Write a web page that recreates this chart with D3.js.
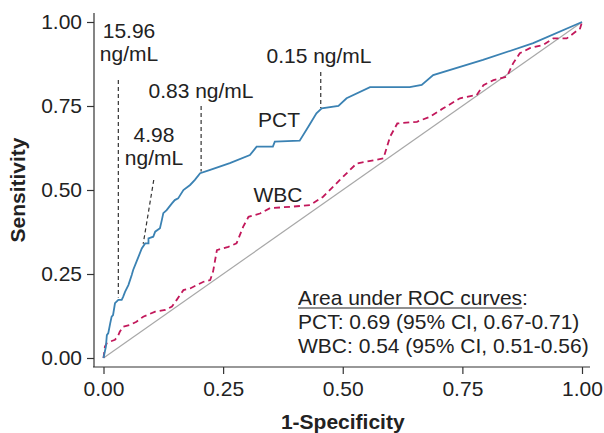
<!DOCTYPE html>
<html><head><meta charset="utf-8">
<script src="https://cdn.jsdelivr.net/npm/d3@7"></script>
<style>html,body{margin:0;padding:0;background:#fff;}svg{display:block;font-family:"Liberation Sans",Arial,sans-serif;}</style>
</head><body>
<svg id="c" width="604" height="433"></svg>
<script>
// PCT ROC curve: [1-specificity, sensitivity]
const pctFpr = [0,0.005,0.007,0.010,0.014,0.017,0.020,0.024,0.031,0.038,0.041,0.045,0.052,0.059,0.062,0.069,0.073,0.080,0.087,0.094,0.094,0.104,0.108,0.118,0.122,0.125,0.132,0.143,0.149,0.156,0.167,0.181,0.191,0.202,0.223,0.264,0.306,0.320,0.354,0.358,0.410,0.428,0.445,0.456,0.491,0.508,0.557,0.640,0.665,0.689,0.793,0.898,1.0];
const pctTpr = [0,0.034,0.068,0.074,0.103,0.123,0.128,0.163,0.173,0.173,0.182,0.197,0.217,0.247,0.262,0.287,0.301,0.326,0.341,0.341,0.356,0.361,0.376,0.386,0.411,0.431,0.440,0.460,0.470,0.475,0.500,0.515,0.530,0.550,0.560,0.580,0.604,0.629,0.629,0.644,0.647,0.688,0.728,0.743,0.750,0.773,0.806,0.806,0.8125,0.842,0.887,0.937,1.0];
// WBC ROC curve
const wbcFpr = [0,0.003,0.007,0.014,0.024,0.031,0.034,0.041,0.055,0.069,0.083,0.108,0.129,0.143,0.153,0.167,0.181,0.209,0.223,0.229,0.237,0.261,0.278,0.292,0.303,0.327,0.348,0.390,0.432,0.459,0.494,0.529,0.585,0.599,0.614,0.655,0.682,0.710,0.745,0.780,0.794,0.815,0.843,0.856,0.870,0.891,0.919,0.940,0.968,0.996,1.0];
const wbcTpr = [0,0.034,0.044,0.049,0.054,0.068,0.078,0.093,0.098,0.108,0.123,0.138,0.143,0.153,0.173,0.202,0.207,0.227,0.232,0.257,0.321,0.331,0.341,0.391,0.420,0.430,0.446,0.450,0.455,0.480,0.530,0.579,0.594,0.659,0.698,0.703,0.718,0.743,0.773,0.783,0.812,0.827,0.837,0.877,0.907,0.922,0.932,0.951,0.951,0.981,1.0];
const ticks = [0, 0.25, 0.5, 0.75, 1.0];
const cutoffLabels = [["15.96","ng/mL"],["4.98","ng/mL"],["0.83 ng/mL"],["0.15 ng/mL"]];
const aucLines = ["Area under ROC curves:","PCT: 0.69 (95% CI, 0.67-0.71)","WBC: 0.54 (95% CI, 0.51-0.56)"];

const svg = d3.select("#c");
const x = d3.scaleLinear().domain([0,1]).range([103.5,582]);
const y = d3.scaleLinear().domain([0,1]).range([358,22]);
const FS = 21;

// axes
const xAxis = svg.append("g").attr("transform","translate(0,367)")
  .call(d3.axisBottom(x).tickValues(ticks).tickFormat(d3.format(".2f")).tickSize(7).tickSizeOuter(0).tickPadding(7));
const yAxis = svg.append("g").attr("transform","translate(94,0)")
  .call(d3.axisLeft(y).tickValues(ticks).tickFormat(d3.format(".2f")).tickSize(7).tickSizeOuter(0).tickPadding(5));
[xAxis,yAxis].forEach(a=>{
  a.select(".domain").attr("stroke","#333").attr("stroke-width",1.2);
  a.selectAll(".tick line").attr("stroke","#333").attr("stroke-width",1.2);
  a.selectAll(".tick text").attr("fill","#222").style("font-size",FS+"px").style("font-family","Liberation Sans, Arial, sans-serif");
});
xAxis.select(".domain").attr("d","M93,0H590");
yAxis.select(".domain").attr("d","M0,13V367");

// axis titles
svg.append("text").attr("x",x(0.5)).attr("y",429).attr("text-anchor","middle")
  .attr("font-size",21).attr("font-weight","bold").attr("fill","#222").text("1-Specificity");
svg.append("text").attr("transform","translate(25,190) rotate(-90)").attr("text-anchor","middle")
  .attr("font-size",21).attr("font-weight","bold").attr("fill","#222").text("Sensitivity");

// diagonal
svg.append("line").attr("x1",x(0)).attr("y1",y(0)).attr("x2",x(1)).attr("y2",y(1))
  .attr("stroke","#a8a8a8").attr("stroke-width",1.2);

const line = d3.line().x(d=>x(d[0])).y(d=>y(d[1]));
const wbc = wbcFpr.map((f,i)=>[f,wbcTpr[i]]);
const pct = pctFpr.map((f,i)=>[f,pctTpr[i]]);
svg.append("path").attr("d",line(wbc)).attr("fill","none").attr("stroke","#c2185b")
  .attr("stroke-width",1.8).attr("stroke-dasharray","6,4");
svg.append("path").attr("d",line(pct)).attr("fill","none").attr("stroke","#3b82b3")
  .attr("stroke-width",1.8);

// cutoff annotations (dashed leader lines)
const dash = "4,3";
const leaders = [
  {x1:0.031,y1:y.invert(80),x2:0.031,y2:0.18},
  {x1:0.105,y1:y.invert(180),x2:0.083,y2:0.34},
  {x1:0.204,y1:y.invert(106),x2:0.204,y2:0.555},
  {x1:0.454,y1:y.invert(72),x2:0.454,y2:0.744}
];
leaders.forEach(l=>{
  svg.append("line").attr("x1",x(l.x1)).attr("y1",y(l.y1)).attr("x2",x(l.x2)).attr("y2",y(l.y2))
    .attr("stroke","#333").attr("stroke-width",1.2).attr("stroke-dasharray",dash);
});
const labelPos = [[129,38,23],[154,142,23],[201,98,0],[319,63,0]];
cutoffLabels.forEach((lines,i)=>{
  const [cx,by,dy] = labelPos[i];
  const t = svg.append("text").attr("x",cx).attr("y",by).attr("text-anchor","middle")
    .attr("font-size",FS).attr("fill","#222");
  lines.forEach((s,j)=>t.append("tspan").attr("x",cx).attr("y",by+j*dy).text(s));
});
svg.append("text").attr("x",279).attr("y",127).attr("text-anchor","middle").attr("font-size",FS).attr("fill","#222").text("PCT");
svg.append("text").attr("x",278).attr("y",202).attr("text-anchor","middle").attr("font-size",FS).attr("fill","#222").text("WBC");

// AUC text
aucLines.forEach((s,i)=>{
  const t = svg.append("text").attr("x",298).attr("y",305+i*24).attr("font-size",FS).attr("fill","#222").text(s);
  if(i===0){
    const w = t.node().getSubStringLength(0, s.length-1);
    svg.append("line").attr("x1",298).attr("x2",298+w).attr("y1",308).attr("y2",308).attr("stroke","#222").attr("stroke-width",1.2);
  }
});
</script>
</body></html>
